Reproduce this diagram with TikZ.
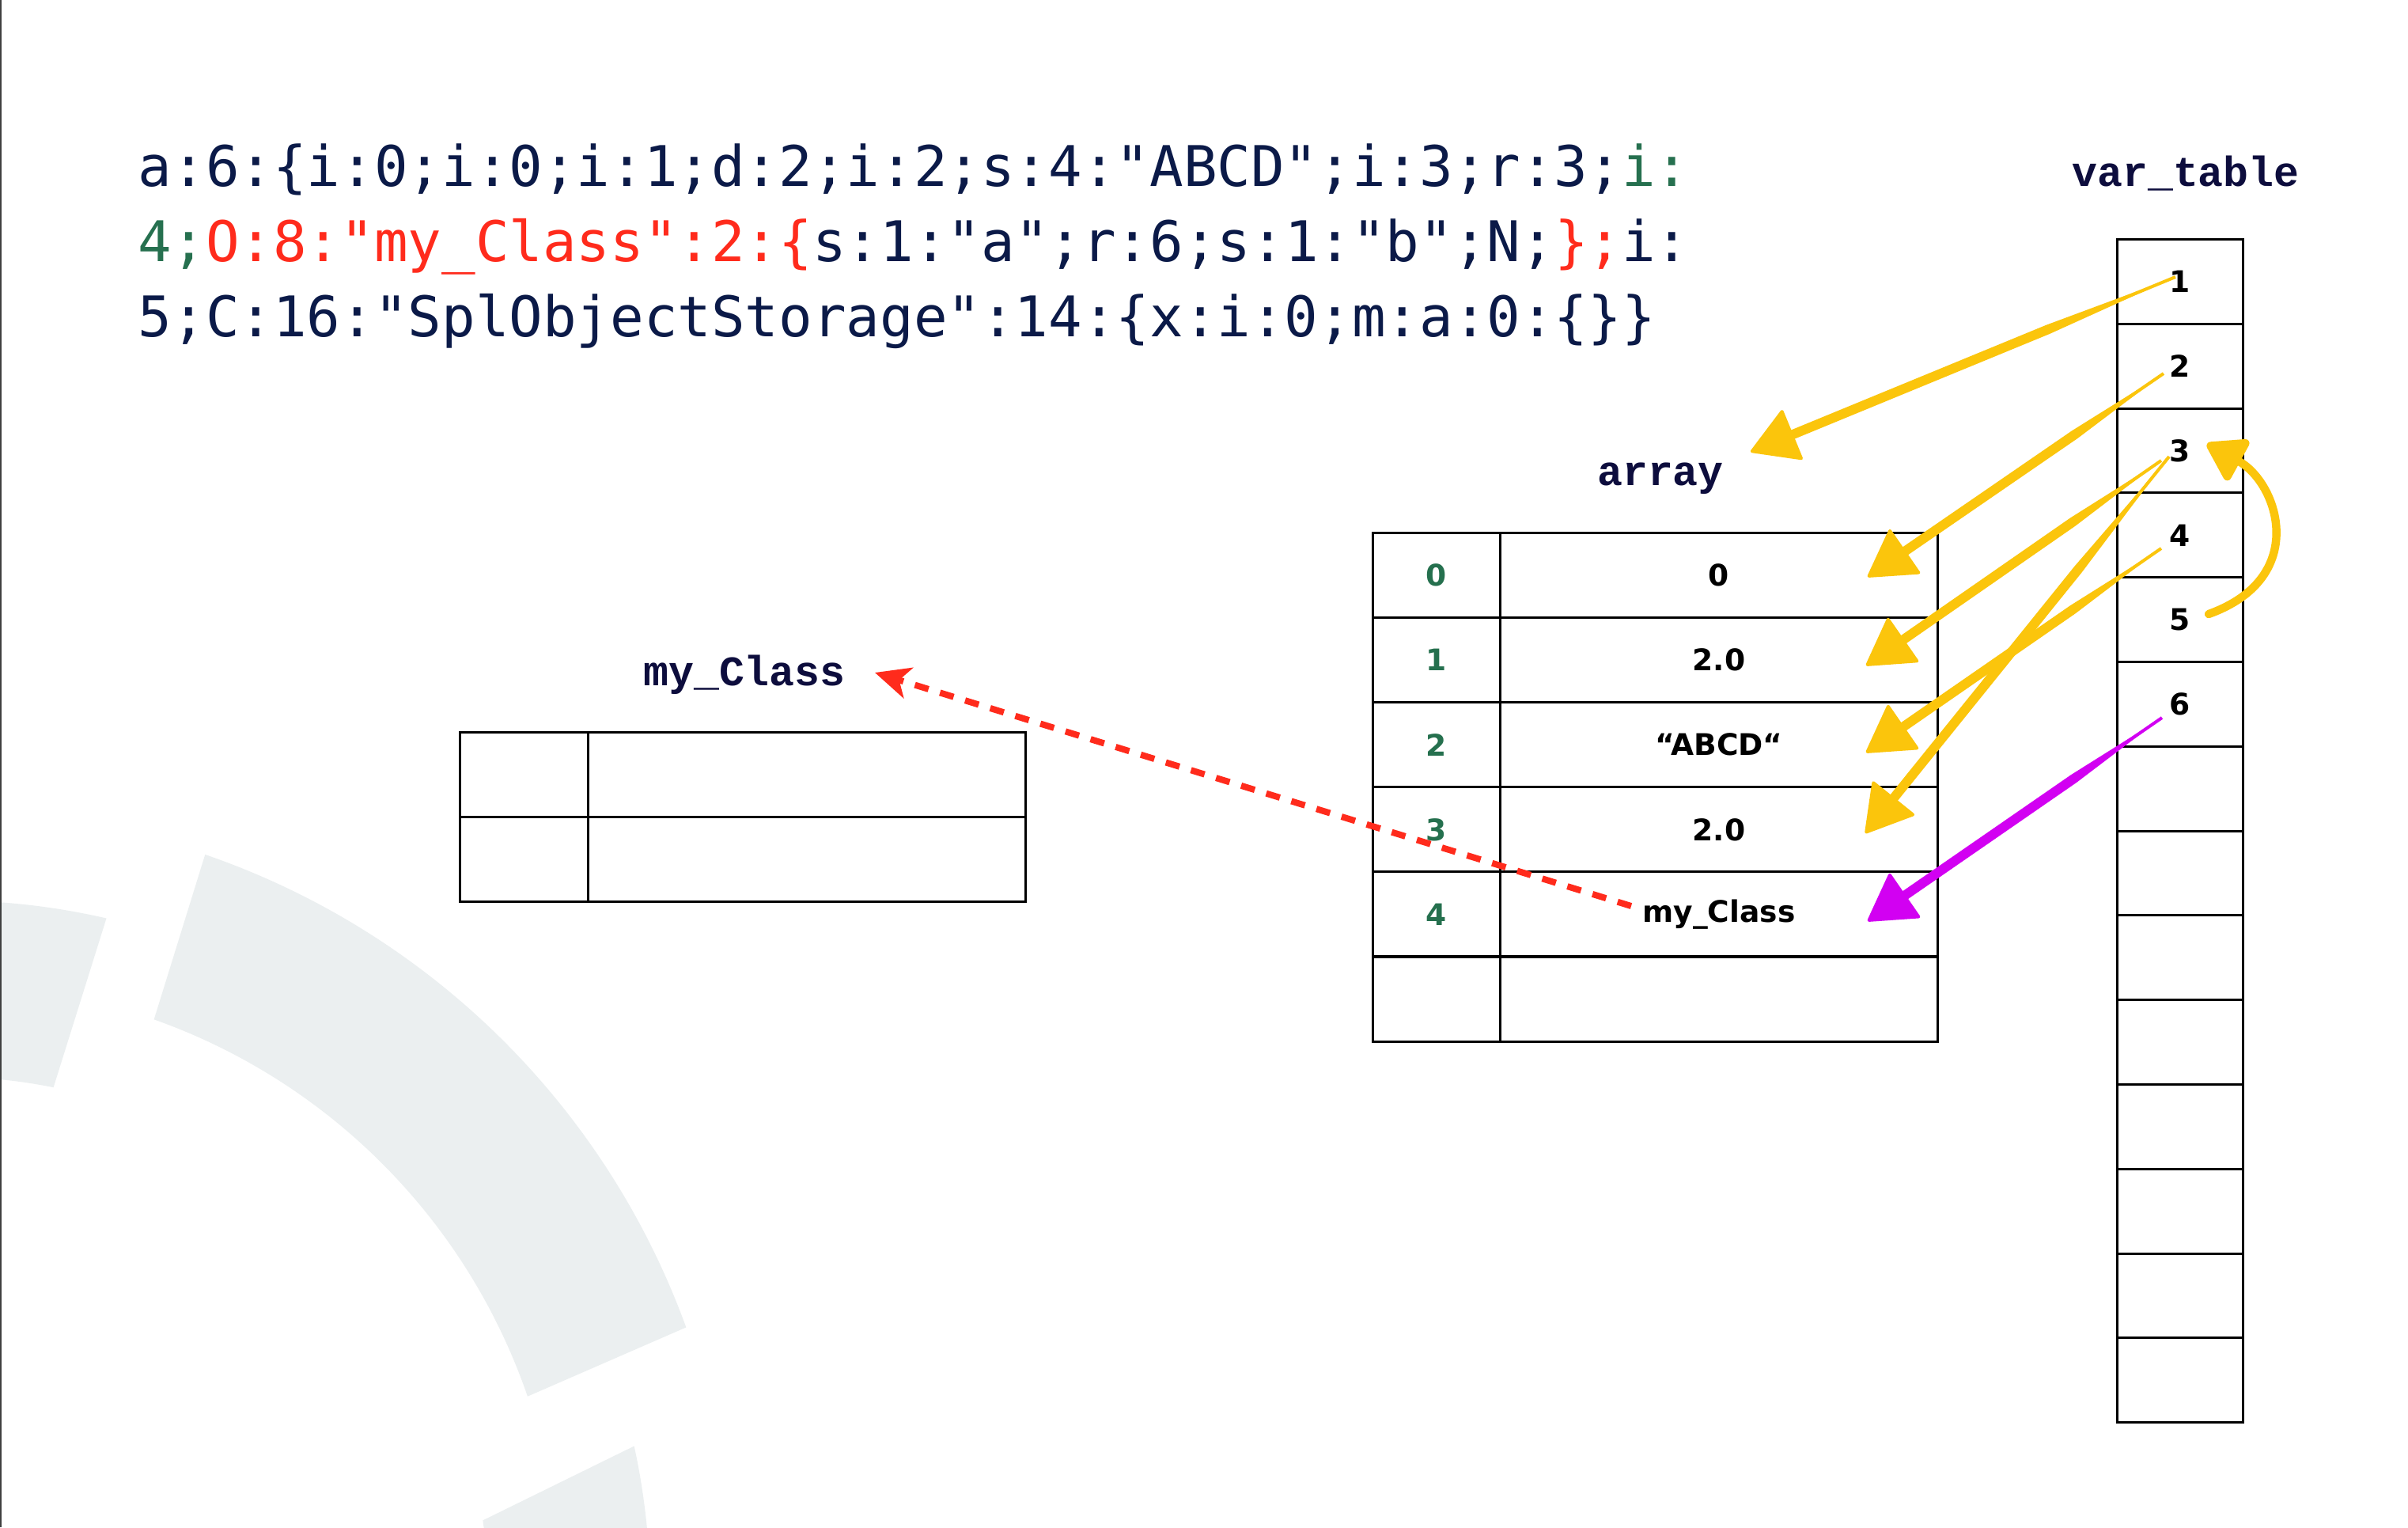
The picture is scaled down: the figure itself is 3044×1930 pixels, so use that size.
\documentclass[tikz,border=0pt]{standalone}
\usepackage{fontspec}
\setmonofont{DejaVu Sans Mono}
\newfontfamily\labfont{Liberation Mono}
\newfontfamily\numfont{DejaVu Sans}
\usetikzlibrary{arrows.meta,calc}
\definecolor{navy}{HTML}{0B1A48}
\definecolor{sergreen}{HTML}{26704F}
\definecolor{serred}{HTML}{FF2B1C}
\definecolor{labnavy}{HTML}{0D0D3D}
\definecolor{ylw}{HTML}{FBC50C}
\definecolor{mag}{HTML}{D200F2}
\definecolor{ringgray}{HTML}{EBEFF0}
\definecolor{idxgreen}{HTML}{25704E}
\tikzset{
  cell/.style={draw=black, line width=0.75pt, rectangle, inner sep=0pt, anchor=north west,
    minimum height=26.75pt, font=\numfont\bfseries\fontsize{9.4}{11}\selectfont},
  lab/.style={font=\labfont\bfseries\fontsize{13.3}{15}\selectfont, text=labnavy, inner sep=0pt, anchor=base},
  ser/.style={font=\ttfamily\fontsize{17.7}{23.75}\selectfont, inner sep=0pt, anchor=base west},
  headtip/.style={-{Triangle[length=15pt,width=17.5pt,round]}},
  reddash/.style={draw=serred, line width=2pt, dash pattern=on 4.5pt off 3.8pt,
    -{Stealth[length=11pt,width=10pt,inset=3pt]}},
}
% tapered hand-drawn arrow: #1 colour, #2 tail, #3 tip
\newcommand\tarrow[3]{%
  \fill[#1] (#2)
    -- ($(#2)!0.3!(#3)!1.5pt!90:(#3)$)
    -- ($(#3)!13pt!(#2)!1.5pt!90:(#3)$)
    -- ($(#3)!13pt!(#2)!1.5pt!-90:(#3)$)
    -- ($(#2)!0.3!(#3)!1.5pt!-90:(#3)$) -- cycle;
  \draw[#1, line width=1pt, headtip] (#2) -- (#3);
}
\begin{document}
\begin{tikzpicture}[x=0.25pt,y=-0.25pt]
\useasboundingbox (0,0) rectangle (3044,1930);
\fill[white] (0,0) rectangle (3044,1930);
% background ring pieces
\begin{scope}
  \clip (0,0) rectangle (3044,1930);
  \begin{scope}[shift={(-63,2016)}]
    \fill[ringgray] (-20:990) arc[start angle=-20,end angle=-71,radius=990]
      -- (-70.5:772) arc[start angle=-70.5,end angle=-19,radius=772] -- cycle;
    \fill[ringgray] (-77:878) arc[start angle=-77,end angle=-100,radius=878]
      -- (-100:655) arc[start angle=-100,end angle=-78.5,radius=655] -- cycle;
    \fill[ringgray] (-12.3:885) arc[start angle=-12.3,end angle=10,radius=885]
      -- (10:680) arc[start angle=10,end angle=-8,radius=680] -- cycle;
  \end{scope}
\end{scope}
\draw[black!75, line width=0.6pt] (1,0) -- (1,1930);

% serialized string
\node[ser] (s1) at (174,235) {{\color{navy}a:6:\{i:0;i:0;i:1;d:2;i:2;s:4:"ABCD";i:3;r:3;}{\color{sergreen}i:}};
\node[ser] (s2) at (174,330) {{\color{sergreen}4;}{\color{serred}O:8:"my\_Class":2:\{}{\color{navy}s:1:"a";r:6;s:1:"b";N;}{\color{serred}\};}{\color{navy}i:}};
\node[ser] (s3) at (174,425) {{\color{navy}5;C:16:"SplObjectStorage":14:\{x:i:0;m:a:0:\{\}\}}};

% labels
\node[lab] (lvt) at (2763,235) {var\_table};
\node[lab] (larr) at (2099,613) {array};
\node[lab] (lmc) at (941,866) {my\_Class};

% array table
\foreach \i/\idx/\val in {0/0/0,1/1/2.0,2/2/“ABCD“,3/3/2.0,4/4/my\_Class,5//}{
  \node[cell, minimum width=40.25pt, text=idxgreen] (ai\i) at (1734,{672+\i*107.1}) {\idx};
  \node[cell, minimum width=138.25pt] (av\i) at (1895,{672+\i*107.1}) {\val};
}
% var_table
\foreach \i in {1,...,14}{
  \node[cell, minimum width=39.75pt, minimum height=26.7pt] (vt\i) at (2675,{301+(\i-1)*106.8}) {\ifnum\i<7 \i\fi};
}
% my_Class table
\foreach \i in {0,1}{
  \node[cell, minimum width=40.5pt, minimum height=26.7pt] (mcl\i) at (580,{924+\i*106.7}) {};
  \node[cell, minimum width=138.25pt, minimum height=26.7pt] (mcr\i) at (742,{924+\i*106.7}) {};
}

% arrow end points
\coordinate (t1) at (2750,350);  \coordinate (h1) at (2213,571);
\coordinate (t2) at (2735,472);  \coordinate (h2) at (2361,729);
\coordinate (t3a) at (2732,582); \coordinate (h3a) at (2359,841);
\coordinate (t3b) at (2742,577); \coordinate (h3b) at (2358,1053);
\coordinate (t4) at (2732,693);  \coordinate (h4) at (2359,951);
\coordinate (c5) at (2792,776);  \coordinate (c3) at (2790,561);
\coordinate (t6) at (2733,907);  \coordinate (h6) at (2361,1164);
\coordinate (rs) at (2062,1145); \coordinate (rt) at (1106,850);

% arrows
\draw[reddash] (rs) -- (rt);
\tarrow{ylw}{t1}{h1}
\tarrow{ylw}{t2}{h2}
\tarrow{ylw}{t3a}{h3a}
\tarrow{ylw}{t3b}{h3b}
\tarrow{ylw}{t4}{h4}
\tarrow{mag}{t6}{h6}
\draw[ylw, line width=2.6pt, line cap=round, -{Triangle[length=13pt,width=16pt,round]}]
  (c5) .. controls (2920,730) and (2880,610) .. (c3);
\end{tikzpicture}
\end{document}
